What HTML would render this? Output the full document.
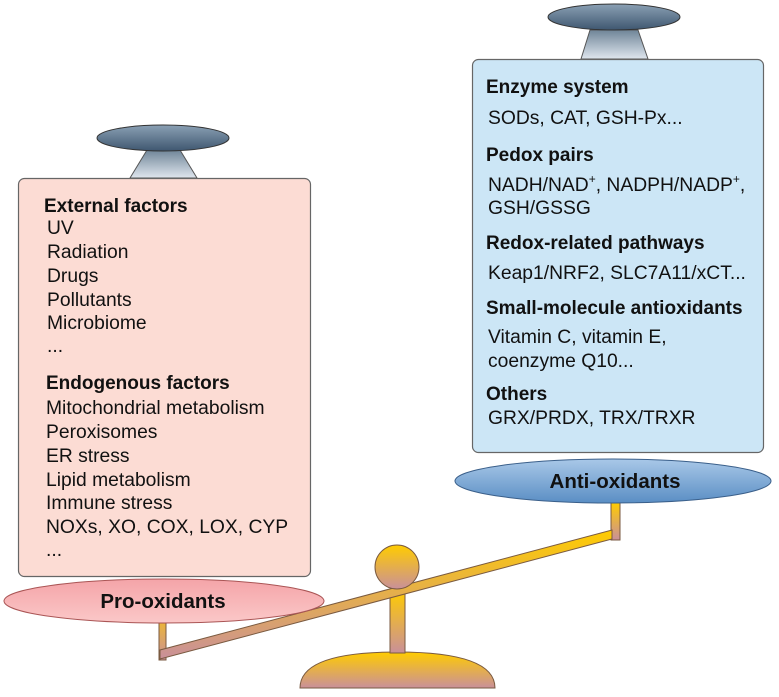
<!DOCTYPE html>
<html><head><style>body{margin:0;background:#fff}svg{display:block}text{font-family:"Liberation Sans",Arial,sans-serif;fill:#111}.b{font-weight:bold;font-size:19px}.r{font-size:19.3px}</style></head><body>
<svg width="779" height="697" viewBox="0 0 779 697">
<defs>
<linearGradient id="cap" x1="0" y1="0" x2="0" y2="1"><stop offset="0" stop-color="#8aa0b4"/><stop offset="1" stop-color="#3f5770"/></linearGradient>
<linearGradient id="trap" x1="0" y1="0" x2="0" y2="1"><stop offset="0" stop-color="#6f8598"/><stop offset="1" stop-color="#dfe6ee"/></linearGradient>
<linearGradient id="gold" x1="0" y1="0" x2="0" y2="1"><stop offset="0" stop-color="#ffcc00"/><stop offset="1" stop-color="#c9909a"/></linearGradient>
<linearGradient id="pink" x1="0" y1="0" x2="0" y2="1"><stop offset="0" stop-color="#f4a4a8"/><stop offset="1" stop-color="#fbc8c8"/></linearGradient>
<linearGradient id="blue" x1="0" y1="0" x2="0" y2="1"><stop offset="0" stop-color="#a9c8e8"/><stop offset="1" stop-color="#5a8ec4"/></linearGradient>
</defs>
<polygon points="147,150 180,150 197,178 130,178" fill="url(#trap)" stroke="#555" stroke-width="1"/>
<ellipse cx="163" cy="138" rx="66" ry="13" fill="url(#cap)" stroke="#333" stroke-width="1"/>
<polygon points="590,30 638,30 648,59 581,59" fill="url(#trap)" stroke="#555" stroke-width="1"/>
<ellipse cx="614" cy="17" rx="66" ry="13" fill="url(#cap)" stroke="#333" stroke-width="1"/>
<rect x="18.5" y="178.5" width="292" height="398" rx="6" fill="#fcdcd4" stroke="#666" stroke-width="1.2"/>
<rect x="472.5" y="59.5" width="291" height="393" rx="6" fill="#cce6f6" stroke="#666" stroke-width="1.2"/>
<path d="M300,688 Q300,652 397,652 Q495,652 495,688 Z" fill="url(#gold)" stroke="#7a5a40"/>
<rect x="390" y="590" width="15" height="63" fill="url(#gold)" stroke="#7a5a40"/>
<rect x="159" y="600" width="7" height="60" fill="url(#gold)" stroke="#7a5a40"/>
<rect x="611" y="503" width="9" height="37" fill="url(#gold)" stroke="#7a5a40"/>
<polygon points="160,650 612,530 612,539 160,659" fill="url(#gold)" stroke="#7a5a40"/>
<circle cx="397" cy="567" r="22" fill="url(#gold)" stroke="#7a5a40"/>
<ellipse cx="164" cy="601" rx="160" ry="22" fill="url(#pink)" stroke="#a55" stroke-width="1"/>
<text x="163" y="608" text-anchor="middle" style="font-weight:bold;font-size:20.5px">Pro-oxidants</text>
<ellipse cx="613" cy="481" rx="158" ry="22" fill="url(#blue)" stroke="#3a5f8a" stroke-width="1"/>
<text x="615" y="488" text-anchor="middle" style="font-weight:bold;font-size:20.5px">Anti-oxidants</text>
<text class="b" x="44" y="212">External factors</text>
<text class="r" x="47" y="234">UV</text>
<text class="r" x="47" y="258">Radiation</text>
<text class="r" x="47" y="282">Drugs</text>
<text class="r" x="47" y="306">Pollutants</text>
<text class="r" x="47" y="329">Microbiome</text>
<text class="r" x="47" y="352">...</text>
<text class="b" x="46" y="389">Endogenous factors</text>
<text class="r" x="46" y="414">Mitochondrial metabolism</text>
<text class="r" x="46" y="438">Peroxisomes</text>
<text class="r" x="46" y="462">ER stress</text>
<text class="r" x="46" y="486">Lipid metabolism</text>
<text class="r" x="46" y="509">Immune stress</text>
<text class="r" x="46" y="533">NOXs, XO, COX, LOX, CYP</text>
<text class="r" x="46" y="556">...</text>
<text class="b" x="486" y="93">Enzyme system</text>
<text class="r" x="488" y="124">SODs, CAT, GSH-Px...</text>
<text class="b" x="486" y="161">Pedox pairs</text>
<text class="r" x="488" y="191">NADH/NAD<tspan dy="-8" font-size="12">+</tspan><tspan dy="8">, NADPH/NADP</tspan><tspan dy="-8" font-size="12">+</tspan><tspan dy="8">,</tspan></text>
<text class="r" x="488" y="214">GSH/GSSG</text>
<text class="b" x="486" y="249">Redox-related pathways</text>
<text class="r" x="488" y="279">Keap1/NRF2, SLC7A11/xCT...</text>
<text class="b" x="486" y="314">Small-molecule antioxidants</text>
<text class="r" x="488" y="343">Vitamin C, vitamin E,</text>
<text class="r" x="488" y="367">coenzyme Q10...</text>
<text class="b" x="486" y="400">Others</text>
<text class="r" x="488" y="424">GRX/PRDX, TRX/TRXR</text>
</svg>
</body></html>
